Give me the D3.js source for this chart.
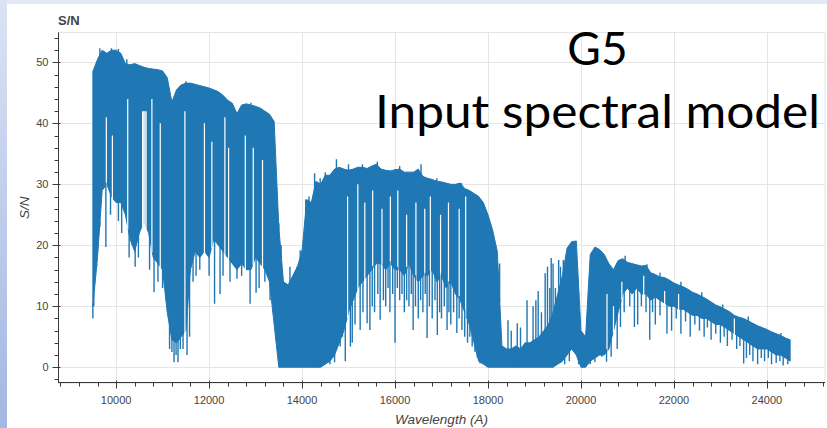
<!DOCTYPE html>
<html>
<head>
<meta charset="utf-8">
<script src="https://cdn.jsdelivr.net/npm/d3@7/dist/d3.min.js"></script>
<style>
  html, body { margin: 0; padding: 0; background: #ffffff; }
  svg { display: block; }
  .tick-label { font-family: "Liberation Sans Narrow", "Liberation Sans", Arial, sans-serif; font-size: 11px; fill: #444444; }
  .axis-title { font-family: "Liberation Sans Narrow", "Liberation Sans", Arial, sans-serif; font-size: 13.5px; font-style: italic; fill: #444444; }
  .plot-title { font-family: "Liberation Sans Narrow", "Liberation Sans", Arial, sans-serif; font-size: 13px; font-weight: bold; fill: #444444; }
  .slide-text { font-family: Lato, "Open Sans", sans-serif; fill: #000000; }
</style>
</head>
<body>
<svg id="chart" width="827" height="428"></svg>
<script>
// ---- Spectrum: S/N per 100 Å bin (upper edge and lower edge of the dense trace)
const binStart = 9500, binStep = 100;
const snTop = [
  48.5, 50.5, 52.0, 51.5, 52.0, 52.0, 51.5, 49.8, 49.6, 49.8,   //  9500 -  10400
  49.5, 49.2, 49.0, 48.9, 48.8, 48.6, 47.5, 43.5, 45.5, 46.3,   // 10500 -  11400
  46.6, 46.6, 46.4, 46.2, 46.0, 45.8, 45.5, 45.2, 44.6, 43.8,   // 11500 -  12400
  43.3, 41.6, 43.0, 43.2, 43.0, 42.8, 42.5, 42.0, 41.5, 40.3,   // 12500 -  13400
  23.0, 14.0, 13.5, 15.0, 16.5, 19.0, 27.5, 27.0, 30.5, 30.0,   // 13500 -  14400
  31.5, 31.5, 32.5, 32.8, 32.5, 32.3, 32.5, 32.8, 32.8, 32.6,   // 14500 -  15400
  33.0, 33.3, 32.5, 32.3, 32.2, 32.4, 32.5, 32.0, 32.0, 32.0,   // 15500 -  16400
  32.5, 31.3, 31.0, 30.8, 30.5, 30.4, 30.2, 30.0, 30.0, 30.2,   // 16500 -  17400
  29.3, 29.0, 28.5, 28.0, 27.0, 25.0, 22.5, 19.0,  3.5,  3.0,   // 17500 -  18400
   3.0,  3.5,  3.0,  4.0,  4.0,  4.5,  5.0,  6.0,  7.0,  9.0,   // 18500 -  19400
  12.0, 15.0, 19.5, 20.6, 20.7,  6.0,  5.0, 18.5, 19.7, 19.3,   // 19500 -  20400
  18.5, 17.0, 16.0, 17.5, 17.8, 17.2, 17.0, 16.8, 16.6, 16.7,   // 20500 -  21400
  15.5, 15.2, 14.8, 14.7, 14.3, 13.8, 13.5, 13.2, 12.8, 12.3,   // 21500 -  22400
  12.0, 11.6, 11.2, 10.7, 10.2,  9.9,  9.5,  9.1,  8.5,  8.2,   // 22500 -  23400
   8.0,  7.6,  7.2,  6.8,  6.5,  6.2,  5.8,  5.5,  5.2,  4.8,   // 23500 -  24400
   4.5                                                          // 24500
];
const snFloor = [
  10.0, 18.0, 29.0, 30.0, 28.0, 27.0, 27.0, 25.0, 21.0, 19.0,
  22.0, 24.0, 22.0, 18.0, 17.0, 16.0,  9.0,  4.5,  4.0,  5.0,
   6.0, 16.0, 19.0, 18.0, 19.0, 18.0, 21.0, 20.0, 19.0, 18.0,
  17.0, 16.0, 17.0, 16.0, 16.0, 18.0, 17.0, 16.0, 14.0,  7.0,
   0.0,  0.0,  0.0,  0.0,  0.0,  0.0,  0.0,  0.0,  0.0,  0.0,
   0.5,  1.0,  2.0,  4.0,  6.0,  9.0, 11.0, 13.0, 14.0, 15.0,
  16.0, 17.0, 17.0, 16.0, 17.0, 16.0, 16.0, 15.0, 17.0, 15.0,
  14.0, 15.0, 15.0, 16.0, 14.0, 15.0, 13.0, 14.0, 12.0, 11.0,
   9.0,  7.0,  4.0,  1.0,  0.5,  0.0,  0.0,  0.0,  0.0,  0.0,
   0.0,  0.0,  0.0,  0.0,  0.0,  0.0,  0.0,  0.0,  0.0,  0.0,
   0.5,  1.0,  2.0,  3.0,  2.0,  0.0,  0.0,  1.0,  1.5,  2.0,
   2.0,  3.0,  6.0,  9.0, 12.0, 13.0, 12.0, 13.0, 12.0, 12.0,
  11.0, 11.5, 11.0, 10.5, 10.0, 10.0,  9.5,  9.5,  9.0,  8.5,
   8.5,  8.0,  8.0,  7.5,  7.0,  7.0,  6.5,  6.0,  5.5,  5.0,
   4.5,  4.0,  3.5,  3.0,  3.0,  3.0,  2.5,  2.0,  2.0,  1.5,
   1.0
];
// individual absorption lines reaching below the dense band: [wavelength, S/N]
const dips = [
  [9500, 8], [9520, 10], [9580, 16.5], [9650, 23], [9780, 19.7], [9880, 25], [10050, 24], [10120, 22],
  [10280, 18], [10350, 20], [10410, 16.5], [10480, 18], [10720, 16], [10816, 12.3], [10900, 14],
  [11000, 13], [11080, 12], [11150, 3], [11200, 2.5], [11246, 0.8], [11290, 2], [11332, 0.8],
  [11380, 3], [11440, 3], [11526, 2], [11580, 5], [11655, 14], [11720, 15], [11800, 16], [12000, 15],
  [12118, 10.4], [12236, 12], [12300, 15], [12450, 14], [12600, 14.5], [12700, 15], [12882, 10.4],
  [13011, 12.2], [13076, 13], [13200, 14], [13312, 11], [13377, 9], [13441, 4.5],
  [14540, 0.9], [14600, 0.5], [14700, 0.8], [14820, 3.4], [14870, 5], [14930, 1], [15040, 3.4], [15080, 4],
  [15140, 7], [15250, 6.1], [15310, 9], [15400, 7.2], [15460, 6.1], [15510, 10], [15560, 9], [15630, 12],
  [15680, 7.8], [15750, 11], [15800, 10], [15850, 13], [15890, 9], [15950, 12], [16000, 4], [16050, 13],
  [16100, 11], [16150, 12], [16200, 9], [16250, 11], [16300, 10], [16350, 12], [16390, 6.1], [16440, 10],
  [16500, 8], [16550, 11], [16600, 9], [16650, 12], [16690, 4.8], [16740, 10], [16800, 8], [16860, 11],
  [16910, 5.3], [16960, 9], [17000, 8], [17060, 10], [17120, 6.1], [17160, 9], [17200, 7], [17260, 9],
  [17330, 5.6], [17380, 8], [17440, 6.1], [17500, 5], [17560, 4], [17610, 5], [17660, 3.4], [17720, 2.5],
  [17770, 1.6], [17830, 0.6],
  [19560, 0.7], [19650, 0.5], [19750, 1], [19950, 0.5], [20200, 0.5], [20300, 0.8], [20450, 1.7],
  [20550, 0.9], [20650, 1.7], [20780, 3], [20850, 6.6], [20930, 9], [21050, 10], [21150, 6.6], [21220, 7],
  [21300, 10], [21400, 9], [21480, 4.5], [21540, 9], [21600, 7], [21700, 8.5], [21850, 5.5], [21950, 6],
  [22050, 8], [22150, 5.5], [22250, 7.5], [22350, 5], [22450, 7], [22550, 6], [22650, 5], [22720, 6.5],
  [22800, 4.5], [22900, 5.5], [23000, 4], [23080, 5], [23150, 3.5], [23250, 4.5], [23350, 3],
  [23420, 3.5], [23500, 0.6], [23560, 1.5], [23630, 2], [23700, 1], [23800, 0.5], [23880, 1.5],
  [23950, 1], [24030, 1.5], [24100, 0.5], [24200, 0.7], [24280, 1], [24350, 0.3], [24450, 0.5]
];
// narrow excursions above the band: [wavelength, S/N]
const peaks = [
  [9650, 52.3], [9900, 52.3], [10050, 52.2], [10230, 50.5], [11500, 46.9], [12900, 43.4],
  [13500, 23.6], [13550, 20], [13620, 13], [13740, 16.5], [13800, 14], [13890, 16.5], [13960, 19.2],
  [14000, 19.2], [14080, 27.5], [14150, 28], [14270, 31.8], [14390, 31], [14500, 32], [14740, 34.1],
  [15000, 33.3], [15300, 33.3], [15620, 33.7], [16100, 33], [16560, 33.3], [16900, 31], [17430, 30.2],
  [18250, 17], [18430, 7.7], [18500, 6], [18630, 7.2], [18700, 6.5], [18840, 11], [18970, 10],
  [19030, 11], [19080, 12.5], [19150, 9], [19230, 15.4], [19280, 16.5], [19330, 13], [19360, 17.9],
  [19400, 17], [19450, 13], [19520, 17.6], [19560, 16.5], [19620, 17.6],
  [20950, 18.3], [21420, 16.9], [21700, 15.5], [22150, 14], [22600, 12.3], [23050, 10.3],
  [23600, 8.3], [24300, 5.6]
];
// windows where the trace stays low inside the dense band: [wavelength, S/N]
const windows = [
  [9790, 41], [9920, 38], [10250, 44], [10570, 42], [10595, 42], [10620, 42], [10645, 42],
  [10770, 44], [10950, 40], [11480, 42], [11900, 40], [12060, 37], [12340, 41], [12420, 36],
  [12780, 38], [12950, 36], [13150, 34],
  [14980, 28], [15200, 30], [15350, 27], [15520, 29], [15720, 26], [15900, 28], [16060, 29],
  [16250, 25], [16450, 27], [16640, 26], [16760, 28], [16980, 25], [17150, 27], [17380, 26], [17520, 28],
  [20560, 12], [20700, 10], [20880, 14], [21350, 15], [21800, 12.5], [22100, 12], [23300, 8]
];

// ---- Axes
const xDomain = [8750, 25250];
const yDomain = [-2.62, 54.92];
const xMajorTicks = [10000, 12000, 14000, 16000, 18000, 20000, 22000, 24000];
const yMajorTicks = [0, 10, 20, 30, 40, 50];
const xTitle = "Wavelength (A)";
const yTitle = "S/N";
const plotTitle = "S/N";
const slideLines = ["G5", "Input spectral model"];

const svg = d3.select("#chart");
const W = 827, H = 428;
const plot = { left: 58, right: 825, top: 32.4, bottom: 383.2 };

const x = d3.scaleLinear().domain(xDomain).range([plot.left, plot.right]);
const y = d3.scaleLinear().domain(yDomain).range([plot.bottom, plot.top]);

// slide backdrop
const defs = svg.append("defs");
const grad = defs.append("linearGradient").attr("id", "slideEdge").attr("x1", 0).attr("y1", 0).attr("x2", 0).attr("y2", 1);
grad.append("stop").attr("offset", "0%").attr("stop-color", "#dbe3f4");
grad.append("stop").attr("offset", "100%").attr("stop-color", "#a3b7e2");
svg.append("rect").attr("width", W).attr("height", H).attr("fill", "#ffffff");
svg.append("rect").attr("x", 0).attr("y", 0).attr("width", W).attr("height", 4).attr("fill", "#e2e8f5");
svg.append("rect").attr("x", 0).attr("y", 0).attr("width", 7).attr("height", H).attr("fill", "url(#slideEdge)");

defs.append("clipPath").attr("id", "plotClip").append("rect")
  .attr("x", plot.left).attr("y", plot.top)
  .attr("width", plot.right - plot.left).attr("height", plot.bottom - plot.top);

// grid
const grid = svg.append("g").attr("stroke", "#e5e5e5").attr("stroke-width", 1);
grid.selectAll("line.v").data(xMajorTicks).join("line")
  .attr("x1", d => Math.round(x(d)) + 0.5).attr("x2", d => Math.round(x(d)) + 0.5)
  .attr("y1", plot.top).attr("y2", plot.bottom);
grid.selectAll("line.h").data(yMajorTicks).join("line")
  .attr("x1", plot.left).attr("x2", plot.right)
  .attr("y1", d => Math.round(y(d)) + 0.5).attr("y2", d => Math.round(y(d)) + 0.5);
svg.append("rect")
  .attr("x", plot.left + 0.5).attr("y", Math.round(plot.top) + 0.5)
  .attr("width", plot.right - plot.left - 0.5).attr("height", plot.bottom - plot.top)
  .attr("fill", "none").attr("stroke", "#e5e5e5");

// spectrum
const bins = snTop.map((t, i) => ({ w: binStart + i * binStep, hi: t, lo: snFloor[i] }));
const edgeAt = (w, key) => {
  const f = (w - binStart) / binStep;
  const i = Math.max(0, Math.min(bins.length - 2, Math.floor(f)));
  const t = Math.max(0, Math.min(1, f - i));
  return bins[i][key] * (1 - t) + bins[i + 1][key] * t;
};
const blue = "#1f77b4";
const spec = svg.append("g").attr("clip-path", "url(#plotClip)");
spec.append("path")
  .datum(bins)
  .attr("fill", blue).attr("stroke", blue).attr("stroke-width", 1)
  .attr("d", d3.area().x(d => x(d.w)).y0(d => y(d.lo)).y1(d => y(d.hi)).curve(d3.curveLinear));
spec.selectAll("line.window").data(windows).join("line")
  .attr("x1", d => x(d[0])).attr("x2", d => x(d[0]))
  .attr("y1", d => y(d[1]))
  .attr("y2", d => y(edgeAt(d[0], "lo")) + 2)
  .attr("stroke", "#ffffff").attr("stroke-width", 1.2);
spec.selectAll("line.dip").data(dips).join("line")
  .attr("x1", d => x(d[0])).attr("x2", d => x(d[0]))
  .attr("y1", d => y(edgeAt(d[0], "lo") + 0.5))
  .attr("y2", d => y(d[1]))
  .attr("stroke", blue).attr("stroke-width", 1.4);
spec.selectAll("line.peak").data(peaks).join("line")
  .attr("x1", d => x(d[0])).attr("x2", d => x(d[0]))
  .attr("y1", d => y(edgeAt(d[0], "hi") - 0.5))
  .attr("y2", d => y(d[1]))
  .attr("stroke", blue).attr("stroke-width", 1.4);

// axes
const axisColor = "#3a3a3a";
const xAxisY = 382.5;
const ax = svg.append("g").attr("stroke", axisColor).attr("stroke-width", 1);
ax.append("line").attr("x1", plot.left).attr("x2", plot.right).attr("y1", xAxisY).attr("y2", xAxisY);
ax.append("line").attr("x1", plot.left + 0.5).attr("x2", plot.left + 0.5).attr("y1", plot.top).attr("y2", xAxisY);
const xMinor = d3.range(8800, 25201, 400).filter(v => !xMajorTicks.includes(v));
ax.selectAll("line.xmin").data(xMinor).join("line")
  .attr("x1", d => Math.round(x(d)) + 0.5).attr("x2", d => Math.round(x(d)) + 0.5)
  .attr("y1", xAxisY).attr("y2", xAxisY + 4);
ax.selectAll("line.xmaj").data(xMajorTicks).join("line")
  .attr("x1", d => Math.round(x(d)) + 0.5).attr("x2", d => Math.round(x(d)) + 0.5)
  .attr("y1", xAxisY - 2).attr("y2", xAxisY + 6);
const yMinor = d3.range(-2, 55, 2).filter(v => !yMajorTicks.includes(v));
ax.selectAll("line.ymin").data(yMinor).join("line")
  .attr("x1", plot.left + 0.5).attr("x2", plot.left - 3.5)
  .attr("y1", d => Math.round(y(d)) + 0.5).attr("y2", d => Math.round(y(d)) + 0.5);
ax.selectAll("line.ymaj").data(yMajorTicks).join("line")
  .attr("x1", plot.left + 2.5).attr("x2", plot.left - 5.5)
  .attr("y1", d => Math.round(y(d)) + 0.5).attr("y2", d => Math.round(y(d)) + 0.5);

svg.selectAll("text.xl").data(xMajorTicks).join("text")
  .attr("class", "tick-label").attr("text-anchor", "middle")
  .attr("x", d => x(d)).attr("y", 404).text(d => d);
svg.selectAll("text.yl").data(yMajorTicks).join("text")
  .attr("class", "tick-label").attr("text-anchor", "end")
  .attr("x", 48.5).attr("y", d => y(d) + 4).text(d => d);

svg.append("text").attr("class", "axis-title").attr("text-anchor", "middle")
  .attr("x", (plot.left + plot.right) / 2).attr("y", 424).text(xTitle);
svg.append("text").attr("class", "axis-title").attr("text-anchor", "middle")
  .attr("transform", `translate(29,${(plot.top + plot.bottom) / 2}) rotate(-90)`).text(yTitle);
svg.append("text").attr("class", "plot-title").attr("x", 58).attr("y", 25).text(plotTitle);

// slide caption
svg.append("text").attr("class", "slide-text").attr("text-anchor", "middle")
  .attr("x", 597.5).attr("y", 65).style("font-size", "46px").text(slideLines[0]);
svg.append("text").attr("class", "slide-text").attr("text-anchor", "middle")
  .attr("x", 597.5).attr("y", 128).style("font-size", "46px")
  .attr("textLength", 445).attr("lengthAdjust", "spacingAndGlyphs").text(slideLines[1]);
</script>
</body>
</html>
